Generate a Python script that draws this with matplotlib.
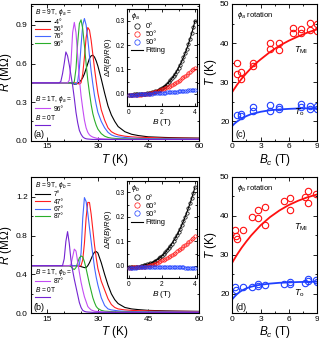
import matplotlib
matplotlib.use('Agg')
import matplotlib.pyplot as plt
from matplotlib.ticker import MultipleLocator

plt.rcParams['font.family'] = ['Liberation Sans', 'DejaVu Sans']
plt.rcParams['mathtext.fontset'] = 'custom'
plt.rcParams['mathtext.rm'] = 'Liberation Sans'
plt.rcParams['mathtext.it'] = 'Liberation Sans:italic'
plt.rcParams['mathtext.fallback'] = 'stixsans'
plt.rcParams['axes.linewidth'] = 0.8

# ---- R(T) curves, panels (a) and (b) ----
T_grid = [10, 18, 18.5, 19, 19.5, 20, 20.5, 21, 21.5, 22,
          22.5, 23, 23.5, 24, 24.5, 25, 25.5, 26, 26.5, 27, 27.5, 28, 28.5, 29, 29.5, 30,
          31, 32, 33, 34, 35, 36, 38, 40, 42, 45, 50, 55, 60]

# panel (a): B = 9T at phi_a = -4, 56, 76, 96 deg; B = 1T at 96 deg; B = 0T
a_m4 = [.45, .45, .45, .45, .45, .45, .45, .45, .45, .45,
        .445, .44, .44, .445, .455, .47, .49, .52, .56, .60, .64, .66, .665, .65, .62, .58,
        .48, .37, .27, .20, .15, .11, .07, .05, .04, .03, .025, .022, .02]
a_56 = [.45, .45, .45, .45, .45, .45, .45, .45, .45, .45,
        .45, .45, .45, .445, .44, .45, .52, .65, .80, .88, .86, .78, .67, .56, .46, .37,
        .24, .16, .10, .07, .055, .045, .035, .03, .027, .025, .02, .02, .018]
a_76 = [.45, .45, .45, .45, .45, .45, .45, .45, .45, .45,
        .45, .445, .44, .46, .56, .74, .90, .95, .90, .79, .66, .54, .44, .35, .28, .22,
        .15, .10, .065, .045, .035, .03, .025, .02, .018, .016, .015, .014, .013]
a_96 = [.45, .45, .45, .45, .45, .45, .45, .45, .45, .45,
        .44, .46, .56, .76, .91, .94, .87, .74, .60, .47, .37, .28, .21, .16, .12, .09,
        .055, .035, .025, .02, .018, .016, .015, .014, .013, .012, .012, .011, .01]
a_1T = [.45, .45, .45, .45, .45, .45, .45, .45, .47, .60,
        .84, .92, .84, .66, .48, .35, .25, .16, .10, .065, .045, .035, .028, .024, .02, .018,
        .015, .013, .012, .011, .011, .01, .01, .01, .01, .01, .01, .01, .01]
a_0T = [.45, .45, .45, .46, .52, .60, .69, .66, .59, .51,
        .43, .33, .22, .14, .08, .05, .03, .02, .015, .013, .012, .011, .01, .01, .01, .01,
        .01, .01, .01, .01, .01, .01, .01, .01, .01, .01, .01, .01, .01]

# panel (b): B = 9T at phi_b = 7, 47, 67, 87 deg; B = 1T at 87 deg; B = 0T
b_7 = [.49, .49, .49, .49, .49, .49, .49, .49, .49, .49,
       .49, .49, .49, .49, .485, .48, .475, .47, .47, .49, .52, .56, .60, .63, .635, .62,
       .52, .40, .29, .20, .14, .10, .06, .045, .038, .03, .025, .022, .02]
b_47 = [.49, .49, .49, .49, .49, .49, .49, .49, .49, .49,
        .49, .49, .49, .49, .485, .49, .55, .72, .98, 1.14, 1.14, 1.02, .86, .70, .57, .46,
        .33, .24, .15, .09, .06, .045, .035, .03, .027, .025, .02, .02, .018]
b_67 = [.49, .49, .49, .49, .49, .49, .49, .49, .49, .49,
        .49, .49, .49, .485, .50, .62, .98, 1.19, 1.15, 1.03, .88, .74, .60, .47, .37, .29,
        .16, .08, .045, .035, .03, .025, .02, .018, .016, .015, .014, .013, .012]
b_87 = [.49, .49, .49, .49, .49, .49, .49, .49, .49, .48,
        .46, .45, .47, .52, .57, .59, .58, .53, .46, .38, .30, .23, .16, .11, .07, .05,
        .03, .022, .02, .018, .016, .015, .014, .013, .012, .012, .011, .01, .01]
b_1T = [.49, .49, .49, .49, .49, .49, .49, .49, .49, .50,
        .58, .66, .64, .53, .42, .32, .24, .17, .12, .07, .05, .035, .028, .022, .02, .018,
        .015, .013, .012, .011, .011, .01, .01, .01, .01, .01, .01, .01, .01]
b_0T = [.49, .49, .49, .49, .49, .56, .74, .84, .72, .55,
        .44, .35, .27, .19, .11, .06, .03, .02, .015, .013, .012, .011, .01, .01, .01, .01,
        .01, .01, .01, .01, .01, .01, .01, .01, .01, .01, .01, .01, .01]

curve_colors = ['black', '#ff1f1f', '#4468ff', '#2aae2a', '#c44cf4', '#7424d2']

# ---- insets: dR(B)/R(0) ----
inset_B = [0.0, 0.1, 0.2, 0.3, 0.4, 0.5, 0.6, 0.7, 0.8, 0.9, 1.0,
           1.1, 1.2, 1.3, 1.4, 1.5, 1.6, 1.7, 1.8, 1.9, 2.0,
           2.1, 2.2, 2.3, 2.4, 2.5, 2.6, 2.7, 2.8, 2.9, 3.0,
           3.1, 3.2, 3.3, 3.4, 3.5, 3.6, 3.7, 3.8, 3.9, 4.0]

ins_a_0 = [-.003, -.003, -.003, -.002, -.002, -.002, -.001, -.001, 0, 0, .001,
           .002, .003, .004, .006, .008, .010, .013, .016, .020, .024,
           .029, .034, .040, .047, .055, .063, .072, .083, .094, .107,
           .120, .134, .150, .167, .185, .205, .227, .249, .274, .300]
ins_a_50 = [-.005, -.005, -.004, -.004, -.004, -.003, -.003, -.003, -.002, -.002, -.001,
            0, .001, .002, .004, .006, .008, .010, .012, .015, .018,
            .021, .024, .027, .030, .034, .038, .042, .046, .050, .054,
            .058, .063, .068, .073, .078, .084, .090, .096, .102, .108]
ins_a_90 = [-.004, -.004, -.004, -.003, -.003, -.003, -.002, -.002, -.002, -.001, -.001,
            0, 0, .001, .001, .002, .002, .003, .003, .004, .004,
            .005, .005, .006, .006, .007, .007, .008, .008, .009, .010,
            .010, .011, .012, .012, .013, .014, .014, .015, .015, .015]

ins_b_0 = [-.006, -.006, -.005, -.005, -.004, -.004, -.003, -.002, 0, .002, .004,
           .006, .008, .010, .013, .017, .021, .025, .030, .035, .041,
           .048, .055, .063, .072, .081, .091, .102, .113, .125, .138,
           .152, .167, .183, .200, .218, .237, .256, .277, .299, .323]
ins_b_60 = [-.008, -.008, -.007, -.007, -.007, -.006, -.006, -.005, -.005, -.004, -.003,
            -.002, 0, .002, .004, .006, .009, .012, .015, .018, .022,
            .025, .029, .033, .037, .041, .045, .050, .054, .059, .064,
            .069, .074, .079, .085, .091, .097, .103, .109, .115, .121]
ins_b_90 = [-.009, -.009, -.008, -.008, -.008, -.007, -.007, -.007, -.006, -.006, -.006,
            -.006, -.005, -.005, -.005, -.005, -.005, -.005, -.005, -.005, -.005,
            -.005, -.005, -.006, -.006, -.006, -.006, -.006, -.006, -.007, -.007,
            -.007, -.007, -.007, -.008, -.008, -.008, -.008, -.009, -.009, -.009]

inset_colors = ['black', '#ff1010', '#1a3cff']

# ---- T_MI and T_o vs B_c, panels (c) and (d) ----
c_B_mi = [0.5, 0.5, 0.9, 0.9, 2.2, 2.2, 4.0, 4.0, 5.0, 5.0, 6.5, 6.5, 7.3, 7.3, 8.3, 8.3, 9.0, 9.0]
c_T_mi = [35.0, 32.0, 32.6, 30.8, 34.8, 34.2, 40.1, 38.5, 40.1, 38.1, 43.9, 42.5, 43.7, 42.5, 45.1, 43.4, 45.0, 43.0]
c_B_o = [0.5, 0.9, 0.9, 2.2, 2.2, 4.0, 4.0, 5.0, 5.0, 7.3, 7.3, 8.3, 8.3, 9.0, 9.0]
c_T_o = [21.6, 21.9, 21.4, 23.6, 22.7, 24.2, 22.7, 23.7, 23.0, 24.4, 23.6, 23.9, 23.0, 23.9, 23.0]

d_B_mi = [0.3, 0.4, 0.5, 1.1, 2.1, 2.7, 2.7, 3.5, 3.5, 5.5, 6.1, 6.1, 7.7, 8.0, 8.0, 8.9]
d_T_mi = [36.2, 34.8, 34.1, 36.2, 39.6, 41.5, 39.4, 42.2, 37.7, 43.8, 44.5, 41.5, 44.8, 46.2, 43.2, 45.6]
d_B_o = [0.3, 0.4, 1.1, 2.1, 2.7, 2.7, 3.5, 5.5, 6.1, 6.1, 7.7, 8.0, 8.0, 8.9, 9.0]
d_T_o = [21.8, 21.0, 21.7, 21.8, 22.6, 22.1, 22.2, 22.6, 23.0, 22.5, 22.7, 23.8, 23.2, 23.5, 23.0]

fit_B = [0, 0.25, 0.5, 0.75, 1, 1.5, 2, 2.5, 3, 4, 5, 6, 7, 8, 9]
c_fit_mi = [27.5, 28.4, 29.3, 30.1, 30.9, 32.3, 33.6, 34.8, 35.8, 37.7, 39.3, 40.6, 41.7, 42.7, 43.5]
c_fit_o = [18.8, 19.4, 19.9, 20.3, 20.7, 21.3, 21.8, 22.1, 22.4, 22.8, 23.0, 23.15, 23.25, 23.3, 23.3]
d_fit_mi = [28.0, 29.0, 30.0, 30.9, 31.8, 33.4, 34.9, 36.2, 37.5, 39.6, 41.3, 42.7, 43.8, 44.7, 45.4]
d_fit_o = [18.6, 19.3, 19.9, 20.4, 20.8, 21.4, 21.8, 22.1, 22.3, 22.6, 22.8, 22.9, 23.0, 23.05, 23.1]


def style_ticks(ax, size):
    ax.tick_params(which='both', direction='in', top=True, right=True, width=0.6, labelsize=size, pad=2)
    ax.tick_params(which='major', length=2.8)
    ax.tick_params(which='minor', length=1.6)


def draw_rt(ax, curves, ymax, ystep, phi, angles, angle_1t, tag):
    lines = []
    for r, c in zip(curves, curve_colors):
        ln, = ax.plot(T_grid, r, color=c, lw=0.8)
        lines.append(ln)
    ax.set_xlim(10, 60)
    ax.set_ylim(0, ymax)
    ax.xaxis.set_major_locator(MultipleLocator(15))
    ax.xaxis.set_minor_locator(MultipleLocator(5))
    ax.yaxis.set_major_locator(MultipleLocator(ystep))
    ax.yaxis.set_minor_locator(MultipleLocator(ystep / 2))
    ax.yaxis.set_major_formatter(lambda v, p: '%.1f' % v)
    style_ticks(ax, 6)
    ax.set_xlabel(r'$T$ (K)', fontsize=8.5, labelpad=1)
    ax.set_ylabel(r'$R$ (M$\Omega$)', fontsize=8.5, labelpad=1)
    kw = dict(loc='upper left', frameon=False, fontsize=4.8, title_fontsize=4.8, handlelength=2.3,
              handletextpad=0.5, labelspacing=0.05, borderpad=0, borderaxespad=0, alignment='left')
    leg1 = ax.legend(lines[:4], angles, title=r'$B$ = 9T, $\phi_%s$ =' % phi,
                     bbox_to_anchor=(0.027, 0.975), **kw)
    ax.add_artist(leg1)
    leg2 = ax.legend([lines[4]], [angle_1t], title=r'$B$ = 1T, $\phi_%s$ =' % phi,
                     bbox_to_anchor=(0.027, 0.34), **kw)
    ax.add_artist(leg2)
    ax.legend([lines[5]], [''], title=r'$B$ = 0T', bbox_to_anchor=(0.027, 0.205), **kw)
    ax.text(0.015, 0.025, tag, transform=ax.transAxes, fontsize=6.5)


def draw_inset(ins, series, phi, angles):
    handles = []
    for y, c in zip(series, inset_colors):
        h, = ins.plot(inset_B, y, 'o', mfc='none', mec=c, ms=2.4, mew=0.5, zorder=3)
        handles.append(h)
    fit, = ins.plot(inset_B, series[0], color='black', lw=0.8, zorder=2)
    ins.set_xlim(-0.1, 4.1)
    ins.set_ylim(-0.05, 0.347)
    ins.xaxis.set_major_locator(MultipleLocator(2))
    ins.xaxis.set_minor_locator(MultipleLocator(1))
    ins.yaxis.set_major_locator(MultipleLocator(0.1))
    ins.yaxis.set_minor_locator(MultipleLocator(0.05))
    ins.yaxis.set_major_formatter(lambda v, p: '%.1f' % v)
    style_ticks(ins, 4.8)
    ins.tick_params(which='major', length=2.2)
    ins.tick_params(which='minor', length=1.2)
    ins.set_xlabel(r'$B$ (T)', fontsize=6, labelpad=1)
    ins.set_ylabel(r'$\Delta R(B)/R(0)$', fontsize=5.5, labelpad=1)
    ins.legend(handles + [fit], angles + ['Fitting'], title=r'$\phi_%s$' % phi, loc='upper left',
               bbox_to_anchor=(0.06, 0.98), frameon=False, fontsize=5.3, title_fontsize=5.3,
               handlelength=1.6, handletextpad=0.35, labelspacing=0.12, borderpad=0,
               borderaxespad=0, alignment='left', markerscale=1.6)


def draw_tb(ax, b_mi, t_mi, b_o, t_o, f_mi, f_o, phi, tag, y_mi, y_o):
    ax.plot(b_mi, t_mi, 'o', mfc='none', mec='#ff1010', ms=4.6, mew=0.8)
    ax.plot(b_o, t_o, 'o', mfc='none', mec='#2040ff', ms=4.6, mew=0.8)
    ax.plot(fit_B, f_mi, color='#ff1010', lw=1.3)
    ax.plot(fit_B, f_o, color='#2040ff', lw=1.3)
    ax.set_xlim(0, 9)
    ax.set_ylim(15, 50)
    ax.xaxis.set_major_locator(MultipleLocator(3))
    ax.xaxis.set_minor_locator(MultipleLocator(1.5))
    ax.yaxis.set_major_locator(MultipleLocator(10))
    ax.yaxis.set_minor_locator(MultipleLocator(5))
    style_ticks(ax, 6)
    ax.set_xlabel(r'$B_c$ (T)', fontsize=8.5, labelpad=1)
    ax.set_ylabel(r'$T$ (K)', fontsize=8.5, labelpad=1)
    ax.text(0.05, 0.955, r'$\phi_%s$ rotation' % phi, transform=ax.transAxes, fontsize=5.5, va='top')
    ax.text(0.73, y_mi, r'$T_{\rm MI}$', transform=ax.transAxes, fontsize=6.5, va='center')
    ax.text(0.73, y_o, r'$T_{\rm o}$', transform=ax.transAxes, fontsize=6.5, va='center')
    ax.text(0.04, 0.025, tag, transform=ax.transAxes, fontsize=6.5)


W, H = 319, 343
fig = plt.figure(figsize=(W / 100, H / 100), dpi=100)


def px_axes(left, top, right, bottom):
    return fig.add_axes([left / W, 1 - bottom / H, (right - left) / W, (bottom - top) / H])


ax_a = px_axes(30.5, 4, 199, 140.7)
ax_b = px_axes(30.5, 176.5, 199, 313.3)
ax_c = px_axes(232.3, 4, 317, 140.7)
ax_d = px_axes(232.3, 176.5, 317, 313.3)
in_a = px_axes(127.3, 9.3, 196.7, 106)
in_b = px_axes(127.3, 181, 196.7, 278)

draw_rt(ax_a, [a_m4, a_56, a_76, a_96, a_1T, a_0T], 1.063, 0.3, 'a',
        ['-4°', '56°', '76°', '96°'], '96°', '(a)')
draw_rt(ax_b, [b_7, b_47, b_67, b_87, b_1T, b_0T], 1.407, 0.4, 'b',
        ['7°', '47°', '67°', '87°'], '87°', '(b)')
draw_inset(in_a, [ins_a_0, ins_a_50, ins_a_90], 'a', ['0°', '50°', '90°'])
draw_inset(in_b, [ins_b_0, ins_b_60, ins_b_90], 'b', ['0°', '60°', '90°'])
draw_tb(ax_c, c_B_mi, c_T_mi, c_B_o, c_T_o, c_fit_mi, c_fit_o, 'a', '(c)', 0.66, 0.21)
draw_tb(ax_d, d_B_mi, d_T_mi, d_B_o, d_T_o, d_fit_mi, d_fit_o, 'b', '(d)', 0.63, 0.15)

fig.savefig('out.png', dpi=100)
